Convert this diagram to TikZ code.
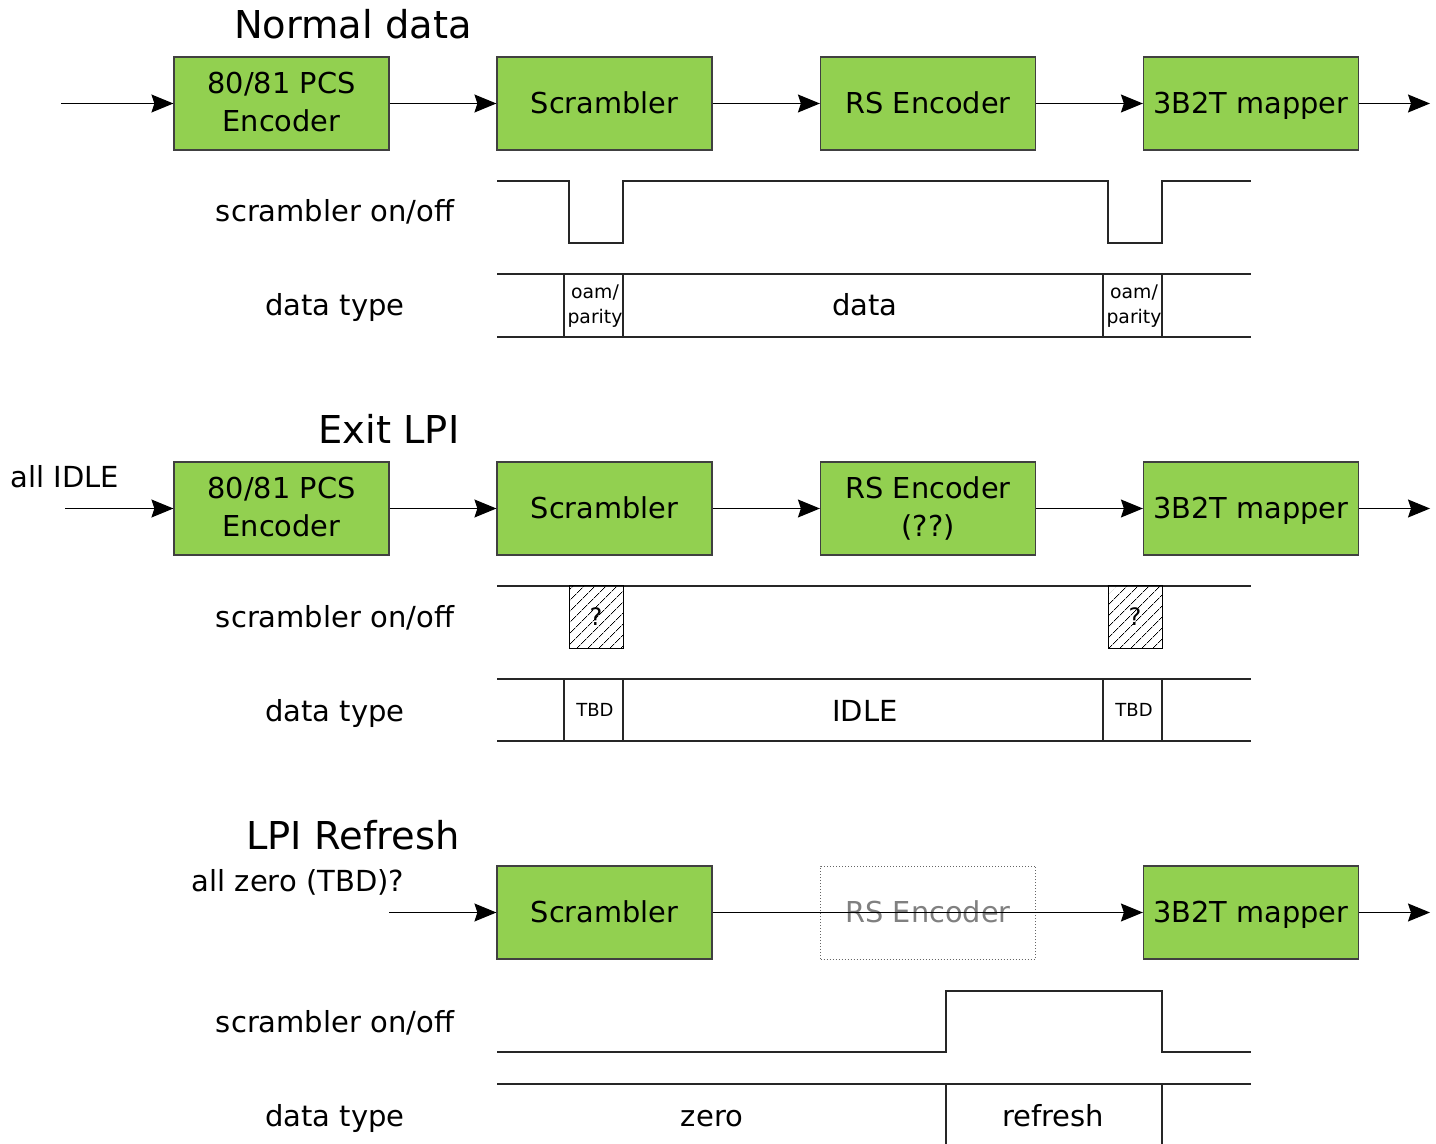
\documentclass[tikz,border=0pt]{standalone}
\usepackage{fontspec}
\setmainfont{DejaVu Sans}
\usetikzlibrary{arrows.meta,patterns.meta}
\definecolor{blockgreen}{HTML}{92D050}
\begin{document}
\begin{tikzpicture}[x=0.5pt,y=-0.5pt,
  % block outlines; text boxes of fixed height keep the captions centred
  boxbase/.style={minimum width=107.5pt, minimum height=46.5pt, inner sep=0pt,
    align=center, font=\fontsize{14.4}{19}\selectfont},
  one/.style={text height=12pt, text depth=2.2pt},
  two/.style={text height=31pt, text depth=3pt},
  blk/.style={boxbase, draw=black!75, line width=0.6pt, fill=blockgreen},
  ghost/.style={boxbase, draw=black!60, densely dotted, line width=0.5pt, text=black!50},
  lbl/.style={inner sep=0pt, anchor=base, font=\fontsize{14.5}{17}\selectfont},
  ttl/.style={inner sep=0pt, anchor=base, font=\fontsize{19.2}{23}\selectfont},
  sml/.style={inner sep=0pt, align=center, font=\fontsize{9.4}{12.5}\selectfont},
  tbd/.style={inner sep=0pt, font=\fontsize{9}{11}\selectfont},
  arr/.style={line width=0.6pt, -{Stealth[length=11pt,width=9pt,inset=1.5pt]}},
  sig/.style={line width=0.6pt, black!85},
  hatch/.style={draw, line width=0.5pt, pattern={Lines[angle=45,distance=4pt,line width=0.4pt]}}
]
\useasboundingbox (0,0) rectangle (1436,1144);

% ---------------- Normal data ----------------
\node[ttl] (t1) at (353,39) {Normal data};
\coordinate (in1) at (61,103.5);
\coordinate (out1) at (1430,103.5);
\node[blk,two] (pcs1) at (281.5,103.5) {80/81 PCS\\Encoder};
\node[blk,one] (scr1) at (604.5,103.5) {Scrambler};
\node[blk,one] (rs1) at (928,103.5) {RS Encoder};
\node[blk,one] (map1) at (1251,103.5) {3B2T mapper};
\draw[arr] (in1) -- (pcs1);
\draw[arr] (pcs1) -- (scr1);
\draw[arr] (scr1) -- (rs1);
\draw[arr] (rs1) -- (map1);
\draw[arr] (map1) -- (out1);

\node[lbl] (so1) at (335,222) {scrambler on/off};
\draw[sig] (497,181) -- (569,181) -- (569,243) -- (623,243) -- (623,181)
  -- (1108,181) -- (1108,243) -- (1162,243) -- (1162,181) -- (1251,181);

\node[lbl] (dt1) at (335,316) {data type};
\draw[sig] (497,274) -- (1251,274);
\draw[sig] (497,337) -- (1251,337);
\foreach \xx in {564,623,1103,1162} \draw[sig] (\xx,274) -- (\xx,337);
\node[sml] (op1a) at (595,306) {oam/\\parity};
\node[lbl] (d1) at (865,316) {data};
\node[sml] (op1b) at (1134,306) {oam/\\parity};

% ---------------- Exit LPI ----------------
\node[ttl] (t2) at (389,444) {Exit LPI};
\node[lbl] (idle) at (65,488) {all IDLE};
\coordinate (in2) at (65,508.5);
\coordinate (out2) at (1430,508.5);
\node[blk,two] (pcs2) at (281.5,508.5) {80/81 PCS\\Encoder};
\node[blk,one] (scr2) at (604.5,508.5) {Scrambler};
\node[blk,two] (rs2) at (928,508.5) {RS Encoder\\(??)};
\node[blk,one] (map2) at (1251,508.5) {3B2T mapper};
\draw[arr] (in2) -- (pcs2);
\draw[arr] (pcs2) -- (scr2);
\draw[arr] (scr2) -- (rs2);
\draw[arr] (rs2) -- (map2);
\draw[arr] (map2) -- (out2);

\node[lbl] (so2) at (335,627) {scrambler on/off};
\draw[sig] (497,586) -- (1251,586);
\draw[hatch] (569,586) rectangle (623,648);
\draw[hatch] (1108,586) rectangle (1162,648);
\node[inner sep=0pt, font=\fontsize{12}{14}\selectfont] (q1) at (596,617) {?};
\node[inner sep=0pt, font=\fontsize{12}{14}\selectfont] (q2) at (1135,617) {?};

\node[lbl] (dt2) at (335,721) {data type};
\draw[sig] (497,679) -- (1251,679);
\draw[sig] (497,741) -- (1251,741);
\foreach \xx in {564,623,1103,1162} \draw[sig] (\xx,679) -- (\xx,741);
\node[tbd] (tb1) at (595,710) {TBD};
\node[lbl] (id2) at (865,721) {IDLE};
\node[tbd] (tb2) at (1134,710) {TBD};

% ---------------- LPI Refresh ----------------
\node[ttl] (t3) at (353,849) {LPI Refresh};
\node[lbl] (zr) at (298,891) {all zero (TBD)?};
\coordinate (in3) at (389,912.5);
\coordinate (out3) at (1430,912.5);
\node[blk,one] (scr3) at (604.5,912.5) {Scrambler};
\node[ghost,one] (rs3) at (928,912.5) {RS Encoder};
\node[blk,one] (map3) at (1251,912.5) {3B2T mapper};
\draw[arr] (in3) -- (scr3);
\draw[arr] (scr3) -- (map3);
\draw[arr] (map3) -- (out3);

\node[lbl] (so3) at (335,1032) {scrambler on/off};
\draw[sig] (497,1052) -- (946,1052) -- (946,991) -- (1162,991) -- (1162,1052) -- (1251,1052);

\node[lbl] (dt3) at (335,1126) {data type};
\draw[sig] (497,1084) -- (1251,1084);
\draw[sig] (946,1084) -- (946,1144);
\draw[sig] (1162,1084) -- (1162,1144);
\node[lbl] (z3) at (712,1126) {zero};
\node[lbl] (r3) at (1053,1126) {refresh};
\end{tikzpicture}
\end{document}
